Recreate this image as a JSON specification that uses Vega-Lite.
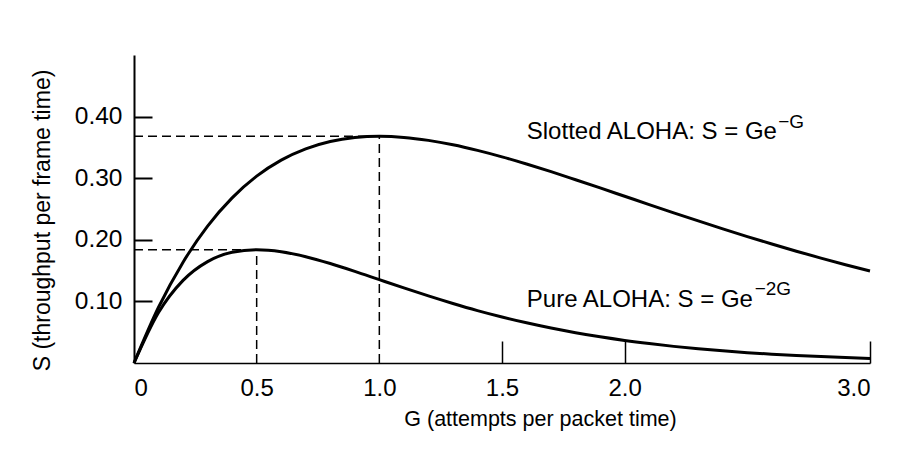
{
  "$schema": "https://vega.github.io/schema/vega-lite/v6.json",
  "autosize": "none",
  "width": 736,
  "height": 308,
  "padding": {"left": 134, "top": 55, "right": 44, "bottom": 88},
  "background": "white",
  "config": {
    "view": {"stroke": null},
    "font": "Liberation Sans",
    "axis": {"labelFont": "Liberation Sans", "titleFont": "Liberation Sans", "labelColor": "black", "titleColor": "black", "domainColor": "black", "tickColor": "black", "titleFontWeight": "normal", "grid": false}
  },
  "datasets": {
    "curves": [
      {"G": 0.0, "S": 0.0, "series": "Slotted"},
      {"G": 0.1, "S": 0.0905, "series": "Slotted"},
      {"G": 0.2, "S": 0.1637, "series": "Slotted"},
      {"G": 0.3, "S": 0.2222, "series": "Slotted"},
      {"G": 0.4, "S": 0.2681, "series": "Slotted"},
      {"G": 0.5, "S": 0.3033, "series": "Slotted"},
      {"G": 0.6, "S": 0.3293, "series": "Slotted"},
      {"G": 0.7, "S": 0.3476, "series": "Slotted"},
      {"G": 0.8, "S": 0.3595, "series": "Slotted"},
      {"G": 0.9, "S": 0.3659, "series": "Slotted"},
      {"G": 1.0, "S": 0.3679, "series": "Slotted"},
      {"G": 1.1, "S": 0.3662, "series": "Slotted"},
      {"G": 1.2, "S": 0.3614, "series": "Slotted"},
      {"G": 1.3, "S": 0.3543, "series": "Slotted"},
      {"G": 1.4, "S": 0.3452, "series": "Slotted"},
      {"G": 1.5, "S": 0.3347, "series": "Slotted"},
      {"G": 1.6, "S": 0.3230, "series": "Slotted"},
      {"G": 1.7, "S": 0.3106, "series": "Slotted"},
      {"G": 1.8, "S": 0.2975, "series": "Slotted"},
      {"G": 1.9, "S": 0.2842, "series": "Slotted"},
      {"G": 2.0, "S": 0.2707, "series": "Slotted"},
      {"G": 2.1, "S": 0.2572, "series": "Slotted"},
      {"G": 2.2, "S": 0.2438, "series": "Slotted"},
      {"G": 2.3, "S": 0.2306, "series": "Slotted"},
      {"G": 2.4, "S": 0.2177, "series": "Slotted"},
      {"G": 2.5, "S": 0.2052, "series": "Slotted"},
      {"G": 2.6, "S": 0.1931, "series": "Slotted"},
      {"G": 2.7, "S": 0.1815, "series": "Slotted"},
      {"G": 2.8, "S": 0.1703, "series": "Slotted"},
      {"G": 2.9, "S": 0.1596, "series": "Slotted"},
      {"G": 3.0, "S": 0.1494, "series": "Slotted"},
      {"G": 0.0, "S": 0.0, "series": "Pure"},
      {"G": 0.1, "S": 0.0819, "series": "Pure"},
      {"G": 0.2, "S": 0.1341, "series": "Pure"},
      {"G": 0.3, "S": 0.1646, "series": "Pure"},
      {"G": 0.4, "S": 0.1797, "series": "Pure"},
      {"G": 0.5, "S": 0.1839, "series": "Pure"},
      {"G": 0.6, "S": 0.1807, "series": "Pure"},
      {"G": 0.7, "S": 0.1726, "series": "Pure"},
      {"G": 0.8, "S": 0.1615, "series": "Pure"},
      {"G": 0.9, "S": 0.1488, "series": "Pure"},
      {"G": 1.0, "S": 0.1353, "series": "Pure"},
      {"G": 1.1, "S": 0.1219, "series": "Pure"},
      {"G": 1.2, "S": 0.1089, "series": "Pure"},
      {"G": 1.3, "S": 0.0966, "series": "Pure"},
      {"G": 1.4, "S": 0.0851, "series": "Pure"},
      {"G": 1.5, "S": 0.0747, "series": "Pure"},
      {"G": 1.6, "S": 0.0652, "series": "Pure"},
      {"G": 1.7, "S": 0.0567, "series": "Pure"},
      {"G": 1.8, "S": 0.0492, "series": "Pure"},
      {"G": 1.9, "S": 0.0425, "series": "Pure"},
      {"G": 2.0, "S": 0.0366, "series": "Pure"},
      {"G": 2.1, "S": 0.0315, "series": "Pure"},
      {"G": 2.2, "S": 0.0270, "series": "Pure"},
      {"G": 2.3, "S": 0.0231, "series": "Pure"},
      {"G": 2.4, "S": 0.0198, "series": "Pure"},
      {"G": 2.5, "S": 0.0168, "series": "Pure"},
      {"G": 2.6, "S": 0.0143, "series": "Pure"},
      {"G": 2.7, "S": 0.0122, "series": "Pure"},
      {"G": 2.8, "S": 0.0104, "series": "Pure"},
      {"G": 2.9, "S": 0.0088, "series": "Pure"},
      {"G": 3.0, "S": 0.0074, "series": "Pure"}
    ],
    "guides": [
      {"x": 0, "x2": 1.0, "y": 0.3679, "y2": 0.3679},
      {"x": 1.0, "x2": 1.0, "y": 0, "y2": 0.3679},
      {"x": 0, "x2": 0.5, "y": 0.1839, "y2": 0.1839},
      {"x": 0.5, "x2": 0.5, "y": 0, "y2": 0.1839}
    ],
    "labels": [
      {"G": 1.601, "S": 0.363, "text": "Slotted ALOHA: S = Ge", "kind": "main"},
      {"G": 2.626, "S": 0.381, "text": "−G", "kind": "sup"},
      {"G": 1.601, "S": 0.091, "text": "Pure ALOHA: S = Ge", "kind": "main"},
      {"G": 2.53, "S": 0.110, "text": "−2G", "kind": "sup"}
    ]
  },
  "layer": [
    {
      "data": {"name": "guides"},
      "mark": {"type": "rule", "strokeDash": [9, 5], "strokeWidth": 1.5, "color": "black"},
      "encoding": {
        "x": {"field": "x", "type": "quantitative", "scale": {"domain": [0, 3]}},
        "x2": {"field": "x2"},
        "y": {"field": "y", "type": "quantitative", "scale": {"domain": [0, 0.5]}},
        "y2": {"field": "y2"}
      }
    },
    {
      "data": {"name": "curves"},
      "mark": {"type": "line", "strokeWidth": 3, "color": "black", "interpolate": "monotone"},
      "encoding": {
        "x": {
          "field": "G", "type": "quantitative",
          "scale": {"domain": [0, 3], "nice": false, "zero": true},
          "axis": {
            "title": "G (attempts per packet time)",
            "values": [0, 0.5, 1, 1.5, 2, 3],
            "labelExpr": "datum.value == 0 ? '0' : format(datum.value, '.1f')",
            "labelFontSize": 24,
            "labelPadding": 35,
            "tickSize": -22,
            "tickWidth": 1.5,
            "tickOpacity": {"condition": {"test": "datum.value < 1.2", "value": 0}, "value": 1},
            "domainWidth": 1.5,
            "titleFontSize": 21.5,
            "titleX": 406,
            "titleY": 56,
            "titleAlign": "center",
            "titleBaseline": "middle"
          }
        },
        "y": {
          "field": "S", "type": "quantitative",
          "scale": {"domain": [0, 0.5], "nice": false},
          "axis": {
            "title": "S (throughput per frame time)",
            "values": [0.1, 0.2, 0.3, 0.4],
            "format": ".2f",
            "labelFontSize": 24.5,
            "labelPadding": 30,
            "tickSize": -18,
            "tickWidth": 2,
            "domainWidth": 2,
            "titleFontSize": 23,
            "titleX": -92,
            "titleY": 165,
            "titleAngle": -90,
            "titleAlign": "center",
            "titleBaseline": "middle"
          }
        },
        "detail": {"field": "series"}
      }
    },
    {
      "data": {"name": "labels"},
      "mark": {"type": "text", "align": "left", "baseline": "alphabetic", "color": "black", "font": "Liberation Sans"},
      "encoding": {
        "x": {"field": "G", "type": "quantitative"},
        "y": {"field": "S", "type": "quantitative"},
        "text": {"field": "text"},
        "size": {"field": "kind", "type": "nominal", "scale": {"domain": ["main", "sup"], "range": [24, 19]}, "legend": null}
      }
    }
  ]
}
